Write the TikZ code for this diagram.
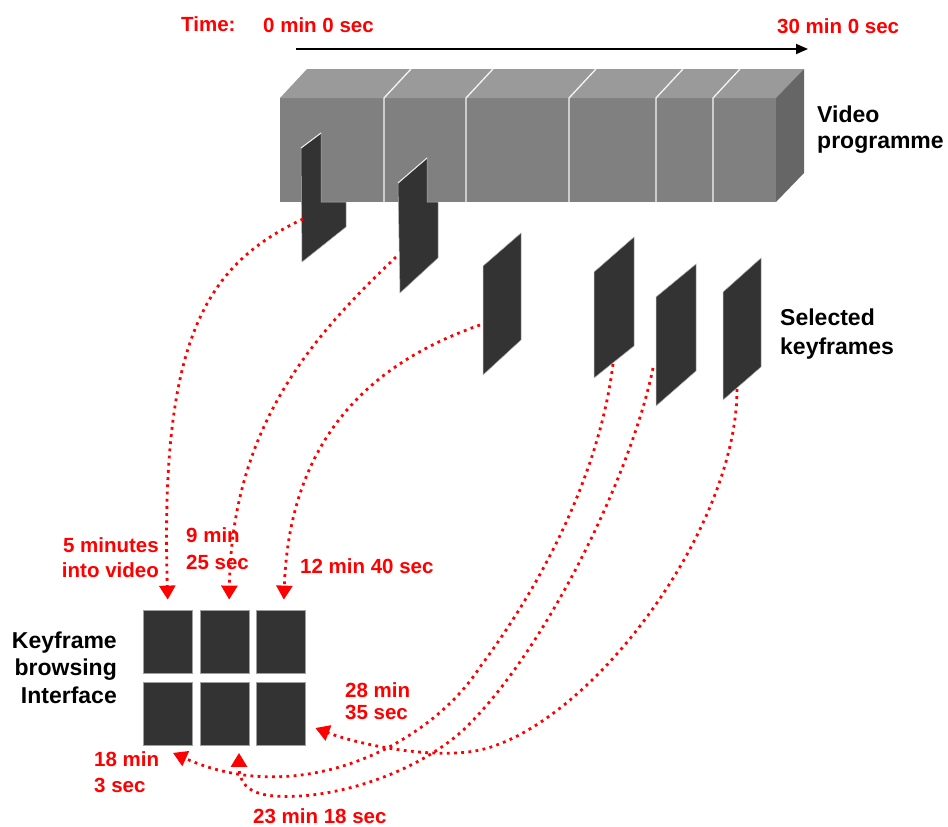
\documentclass[tikz,border=0pt]{standalone}
\usepackage{fontspec}
\setmainfont{Liberation Sans}
\usetikzlibrary{arrows.meta}

\definecolor{frontgray}{HTML}{808080}
\definecolor{topgray}{HTML}{9A9A9A}
\definecolor{sidegray}{HTML}{666666}
\definecolor{framedark}{HTML}{333333}
\definecolor{linkred}{HTML}{FF0000}

% stacked lines with a chosen baseline distance; the box baseline is the first line
\newcommand\stackleft[2][26pt]{\vtop{\baselineskip=#1\relax\halign{##\hfil\cr#2\crcr}}}
\newcommand\stackright[2][26pt]{\vtop{\baselineskip=#1\relax\halign{\hfil##\cr#2\crcr}}}

\begin{document}
\begin{tikzpicture}[x=1pt,y=-1pt,
  blacklabel/.style={inner sep=0pt, font=\bfseries\fontsize{23}{28}\selectfont, text=black},
  redlabel/.style={inner sep=0pt, font=\bfseries\fontsize{20.5}{26}\selectfont, text=linkred},
  cell/.style={draw=gray!75, line width=0.8pt, fill=framedark, minimum width=49pt,
               minimum height=63pt, inner sep=0pt},
  keyframe/.style={fill=framedark, draw=gray!55, line width=0.5pt},
  divider/.style={draw=white!92!gray, line width=1.3pt},
  link/.style={draw=linkred, line width=2.8pt, dash pattern=on 2.8pt off 4.4pt,
               -{Triangle[length=14pt,width=16pt]}},
  timeline/.style={draw=black, line width=1.8pt, -{Triangle[length=12pt,width=10pt]}}
]
\path[use as bounding box, fill=white] (0,0) rectangle (948,827);

% ---- time axis ----
\node[redlabel, anchor=base west] (timelbl) at (181,31) {Time:};
\node[redlabel, anchor=base west] (tstart) at (263,32) {0 min 0 sec};
\node[redlabel, anchor=base west] (tend) at (777,33) {30 min 0 sec};
\coordinate (ax0) at (296,49);
\coordinate (ax1) at (808,49);
\draw[timeline] (ax0) -- (ax1);

% ---- video programme block ----
\fill[frontgray] (280,98) rectangle (776,202);
\fill[topgray] (280,98) -- (307,69) -- (804,69) -- (776,98) -- cycle;
\fill[sidegray] (776,98) -- (804,69) -- (804,173) -- (776,202) -- cycle;
\foreach \x in {384,466,569,656,713}
  \draw[divider] (\x,202) -- (\x,98) -- ++(27,-29);
\node[blacklabel, anchor=base west] (videolbl) at (817,122) {\stackleft{Video\cr programme}};

% ---- keyframes pulled out of the video ----
\fill[keyframe] (301,148) -- (321,133) -- (321,202) -- (346,202) -- (346,227) -- (302,262) -- cycle;
\fill[keyframe] (398,183) -- (427,158) -- (427,202) -- (438,202) -- (438,258) -- (400,293) -- cycle;
\draw[white!85!gray, line width=1pt] (301,148) -- (321,133);
\draw[white!85!gray, line width=1pt] (398,183) -- (427,158);
\fill[keyframe] (483,266) -- (521,233) -- (521,340) -- (483,375) -- cycle;
\fill[keyframe] (594,272) -- (634,237) -- (634,346) -- (594,378) -- cycle;
\fill[keyframe] (656,297) -- (696,264) -- (696,371) -- (656,406) -- cycle;
\fill[keyframe] (723,292) -- (761,258) -- (761,367) -- (723,400) -- cycle;
\node[blacklabel, anchor=base west] (selectedlbl) at (780,325) {\stackleft[29pt]{Selected\cr keyframes}};

\coordinate (k1) at (303,219);
\coordinate (k2) at (396,257);
\coordinate (k3) at (480,325);
\coordinate (k4) at (613,364);
\coordinate (k5) at (653,368);
\coordinate (k6) at (737,389);

% ---- keyframe browsing interface ----
\node[cell] (c11) at (168,641.5) {};
\node[cell] (c12) at (225,641.5) {};
\node[cell] (c13) at (280.5,641.5) {};
\node[cell] (c21) at (168,714) {};
\node[cell] (c22) at (225,714) {};
\node[cell] (c23) at (280.5,714) {};
\node[blacklabel, anchor=base east] (browselbl) at (117,648)
  {\stackright[27.5pt]{Keyframe\cr browsing\cr Interface}};

% ---- links from keyframes to grid positions ----
\draw[link, shorten >=10pt] (k1) .. controls (205,265) and (160,340) .. (c11.north);
\draw[link, shorten >=10pt] (k2) .. controls (320,330) and (232,420) .. ([xshift=4pt]c12.north);
\draw[link, shorten >=10pt] (k3) .. controls (380,360) and (290,430) .. ([xshift=3pt]c13.north);
\draw[link] (k4) .. controls (600,470) and (545,580) .. (480,667)
                 .. controls (430,745) and (300,810) .. ([shift={(5,7)}]c21.south);
\draw[link] (k5) .. controls (630,480) and (540,660) .. (460,733)
                 .. controls (410,776) and (330,800) .. (275,796)
                 .. controls (245,794) and (239,780) .. ([shift={(14,7)}]c22.south);
\draw[link] (k6) .. controls (737,530) and (590,725) .. (480,750)
                 .. controls (435,760) and (360,745) .. ([shift={(10,14)}]c23.east);

% ---- time labels ----
\node[redlabel, anchor=base east] (l5) at (159,552) {\stackright[25pt]{5 minutes\cr into video}};
\node[redlabel, anchor=base west] (l9) at (186,542) {\stackleft[27pt]{9 min\cr 25 sec}};
\node[redlabel, anchor=base west] (l12) at (300,573) {12 min 40 sec};
\node[redlabel, anchor=base west] (l28) at (345,697) {\stackleft[22pt]{28 min\cr 35 sec}};
\node[redlabel, anchor=base west] (l18) at (94,766) {\stackleft[26pt]{18 min\cr 3 sec}};
\node[redlabel, anchor=base west] (l23) at (253,823) {23 min 18 sec};
\end{tikzpicture}
\end{document}
